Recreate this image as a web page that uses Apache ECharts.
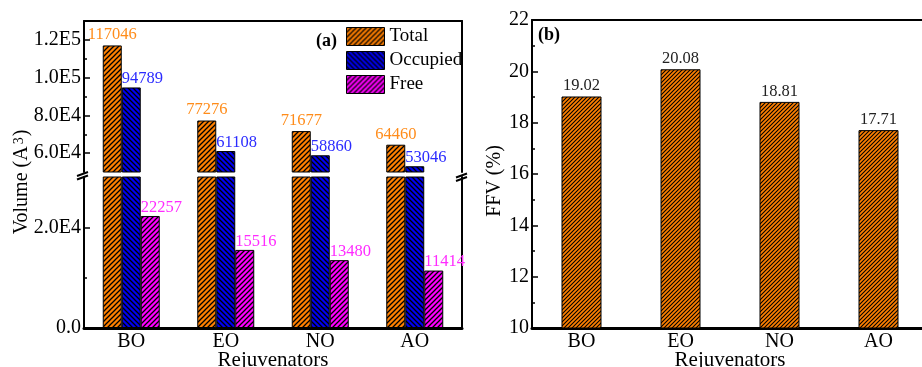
<!DOCTYPE html>
<html>
<head>
<meta charset="utf-8">
<script src="https://cdn.jsdelivr.net/npm/echarts@6/dist/echarts.min.js"></script>
<style>
  html, body { margin: 0; padding: 0; background: #fff; }
  #chart { width: 922px; height: 367px; }
</style>
</head>
<body>
<div id="chart"></div>
<script>
// Free-volume analysis of the four rejuvenators
const categories = ['BO', 'EO', 'NO', 'AO'];
const totalVol = [117046, 77276, 71677, 64460];
const occupiedVol = [94789, 61108, 58860, 53046];
const freeVol = [22257, 15516, 13480, 11414];
const ffv = [19.02, 20.08, 18.81, 17.71];

// Tick positions for the broken volume axis
const upperTicks = [60000, 80000, 100000, 120000];
const upperMinor = [70000, 90000, 110000];
const lowerTicks = [0, 20000];
const lowerMinor = [10000];

const FONT = '"Liberation Serif", "Times New Roman", serif';

// Layout of the panels
const A_LEFT = 84, A_WIDTH = 378;
const UP_TOP = 21, UP_H = 151;
const LO_TOP = 177, LO_H = 151;
const B_LEFT = 532, B_WIDTH = 396, B_TOP = 20, B_H = 308;

function hatch(bg, size, dir, lw) {
  const c = document.createElement('canvas');
  c.width = size; c.height = size;
  const g = c.getContext('2d');
  g.fillStyle = bg;
  g.fillRect(0, 0, size, size);
  g.strokeStyle = '#000';
  g.lineWidth = lw;
  g.beginPath();
  if (dir > 0) {
    g.moveTo(-1, size + 1); g.lineTo(size + 1, -1);
    g.moveTo(-1, 1); g.lineTo(1, -1);
    g.moveTo(size - 1, size + 1); g.lineTo(size + 1, size - 1);
  } else {
    g.moveTo(-1, -1); g.lineTo(size + 1, size + 1);
    g.moveTo(size - 1, -1); g.lineTo(size + 1, 1);
    g.moveTo(-1, size - 1); g.lineTo(1, size + 1);
  }
  g.stroke();
  return { image: c, repeat: 'repeat' };
}

const totalFill = hatch('#FF8000', 5, 1, 1.3);
const occupiedFill = hatch('#0000F0', 5, -1, 1.3);
const freeFill = hatch('#FF00FF', 5, 1, 1.3);
const ffvFill = hatch('#FF8000', 4, 1, 1.1);

function sci(v) {
  if (v === 0) return '0.0';
  const e = Math.floor(Math.log10(v) + 1e-9);
  return (v / Math.pow(10, e)).toFixed(1) + 'E' + e;
}

const tickLabel = { fontFamily: FONT, fontSize: 20, color: '#000' };
const barBorder = { borderColor: '#000', borderWidth: 1 };
const xName = {
  name: 'Rejuvenators', nameLocation: 'middle', nameGap: 22, nameMoveOverlap: false,
  nameTextStyle: { fontFamily: FONT, fontSize: 21, color: '#000' }
};

function volAxis(grid, min, max, major, minor) {
  return [
    {
      gridIndex: grid, type: 'value', position: 'left', min: min, max: max,
      axisLine: { show: true, lineStyle: { color: '#000', width: 2 } },
      axisTick: { show: true, inside: true, length: 6, customValues: major, lineStyle: { color: '#000', width: 1.5 } },
      axisLabel: Object.assign({ customValues: major, margin: 3, formatter: sci }, tickLabel),
      splitLine: { show: false }
    },
    {
      gridIndex: grid, type: 'value', position: 'left', min: min, max: max,
      axisLine: { show: false },
      axisTick: { show: true, inside: true, length: 3, customValues: minor, lineStyle: { color: '#000', width: 1.5 } },
      axisLabel: { show: false },
      splitLine: { show: false }
    },
    {
      gridIndex: grid, type: 'value', position: 'right', min: min, max: max,
      axisLine: { show: true, lineStyle: { color: '#000', width: 2 } },
      axisTick: { show: false }, axisLabel: { show: false }, splitLine: { show: false }
    }
  ];
}

const chart = echarts.init(document.getElementById('chart'), null, { renderer: 'canvas' });

const option = {
  backgroundColor: '#fff',
  animation: false,
  textStyle: { fontFamily: FONT },
  grid: [
    { left: A_LEFT, top: UP_TOP, width: A_WIDTH, height: UP_H, outerBoundsMode: 'none', containLabel: false },
    { left: A_LEFT, top: LO_TOP, width: A_WIDTH, height: LO_H, outerBoundsMode: 'none', containLabel: false },
    { left: B_LEFT, top: B_TOP, width: B_WIDTH, height: B_H, outerBoundsMode: 'none', containLabel: false }
  ],
  legend: {
    orient: 'vertical', left: 346, top: 27, padding: 0,
    itemWidth: 38, itemHeight: 18, itemGap: 5, icon: 'rect',
    data: ['Total', 'Occupied', 'Free'],
    itemStyle: { borderColor: '#000', borderWidth: 1 },
    textStyle: { fontFamily: FONT, fontSize: 19, color: '#000' },
    selectedMode: false
  },
  xAxis: [
    { gridIndex: 0, type: 'category', data: categories, show: false },
    {
      gridIndex: 0, type: 'category', data: categories, position: 'top',
      axisLine: { lineStyle: { color: '#000', width: 2 } },
      axisTick: { inside: true, length: 5, lineStyle: { color: '#000', width: 1.5 } },
      axisLabel: { show: false }
    },
    Object.assign({
      gridIndex: 1, type: 'category', data: categories, position: 'bottom',
      axisLine: { lineStyle: { color: '#000', width: 3 } },
      axisTick: { inside: true, length: 5, lineStyle: { color: '#000', width: 1.5 } },
      axisLabel: Object.assign({ margin: 4 }, tickLabel)
    }, xName),
    Object.assign({
      gridIndex: 2, type: 'category', data: categories, position: 'bottom',
      axisLine: { lineStyle: { color: '#000', width: 3 } },
      axisTick: { inside: true, length: 5, lineStyle: { color: '#000', width: 1.5 } },
      axisLabel: Object.assign({ margin: 4 }, tickLabel)
    }, xName),
    {
      gridIndex: 2, type: 'category', data: categories, position: 'top',
      axisLine: { lineStyle: { color: '#000', width: 2 } },
      axisTick: { inside: true, length: 5, lineStyle: { color: '#000', width: 1.5 } },
      axisLabel: { show: false }
    },
    {
      gridIndex: 2, type: 'category', data: categories, position: 'top',
      axisLine: { show: false },
      axisTick: { inside: true, length: 3, alignWithLabel: true, lineStyle: { color: '#000', width: 1.5 } },
      axisLabel: { show: false }
    }
  ],
  yAxis: [].concat(
    volAxis(0, 50000, 130000, upperTicks, upperMinor),
    volAxis(1, 0, 30000, lowerTicks, lowerMinor),
    [{
      gridIndex: 2, type: 'value', position: 'left', min: 10, max: 22, interval: 2,
      axisLine: { show: true, lineStyle: { color: '#000', width: 2 } },
      axisTick: { show: true, inside: true, length: 6, lineStyle: { color: '#000', width: 1.5 } },
      minorTick: { show: true, splitNumber: 2, length: 3, lineStyle: { color: '#000', width: 1.5 } },
      axisLabel: Object.assign({ margin: 3 }, tickLabel),
      splitLine: { show: false }
    }]
  ),
  series: [
    // upper segment of the broken axis
    {
      name: 'Total', type: 'bar', xAxisIndex: 0, yAxisIndex: 0, data: totalVol,
      barWidth: 19, barGap: '0%',
      itemStyle: Object.assign({ color: totalFill }, barBorder),
      label: { show: true, position: 'top', distance: 2, color: '#FF8C1A', fontFamily: FONT, fontSize: 16.5 }
    },
    {
      name: 'Occupied', type: 'bar', xAxisIndex: 0, yAxisIndex: 0, data: occupiedVol,
      barWidth: 19, barGap: '0%',
      itemStyle: Object.assign({ color: occupiedFill }, barBorder),
      label: { show: true, position: [0, 0], align: 'left', verticalAlign: 'bottom', color: '#2B2BFF', fontFamily: FONT, fontSize: 16.5 }
    },
    {
      name: 'Free', type: 'bar', xAxisIndex: 0, yAxisIndex: 0, data: freeVol,
      barWidth: 19, barGap: '0%',
      itemStyle: Object.assign({ color: freeFill }, barBorder),
      label: { show: false }
    },
    // lower segment of the broken axis
    {
      name: 'Total', type: 'bar', xAxisIndex: 2, yAxisIndex: 3, data: totalVol,
      barWidth: 19, barGap: '0%',
      itemStyle: Object.assign({ color: totalFill }, barBorder),
      label: { show: false }
    },
    {
      name: 'Occupied', type: 'bar', xAxisIndex: 2, yAxisIndex: 3, data: occupiedVol,
      barWidth: 19, barGap: '0%',
      itemStyle: Object.assign({ color: occupiedFill }, barBorder),
      label: { show: false }
    },
    {
      name: 'Free', type: 'bar', xAxisIndex: 2, yAxisIndex: 3, data: freeVol,
      barWidth: 19, barGap: '0%',
      itemStyle: Object.assign({ color: freeFill }, barBorder),
      label: { show: true, position: [0, 0], align: 'left', verticalAlign: 'bottom', color: '#FF2BFF', fontFamily: FONT, fontSize: 16.5 }
    },
    // fractional free volume
    {
      name: 'FFV', type: 'bar', xAxisIndex: 3, yAxisIndex: 6, data: ffv,
      barWidth: 40,
      itemStyle: Object.assign({ color: ffvFill }, barBorder),
      label: {
        show: true, position: 'top', distance: 2, color: '#222', fontFamily: FONT, fontSize: 16.5,
        formatter: function (p) { return p.value.toFixed(2); }
      }
    }
  ],
  graphic: [
    { type: 'text', x: 316, y: 41, style: { text: '(a)', font: 'bold 18px ' + FONT, fill: '#000', verticalAlign: 'middle' } },
    { type: 'text', x: 538, y: 35, style: { text: '(b)', font: 'bold 18px ' + FONT, fill: '#000', verticalAlign: 'middle' } },
    {
      type: 'text', x: 22, y: 182, rotation: Math.PI / 2,
      style: {
        text: 'Volume (A{s|3})', font: '20px ' + FONT, fill: '#000', align: 'center', verticalAlign: 'middle',
        rich: { s: { fontFamily: FONT, fontSize: 14, fill: '#000', verticalAlign: 'top', padding: [0, 1, 6, 2] } }
      }
    },
    { type: 'text', x: 495, y: 181, rotation: Math.PI / 2, style: { text: 'FFV (%)', font: '20px ' + FONT, fill: '#000', align: 'center', verticalAlign: 'middle' } },
    // axis-break marks
    { type: 'line', shape: { x1: 77, y1: 176, x2: 88, y2: 172 }, style: { stroke: '#000', lineWidth: 2 } },
    { type: 'line', shape: { x1: 77, y1: 179.5, x2: 88, y2: 175.5 }, style: { stroke: '#000', lineWidth: 2 } },
    { type: 'line', shape: { x1: 456, y1: 177.5, x2: 467, y2: 173.5 }, style: { stroke: '#000', lineWidth: 2 } },
    { type: 'line', shape: { x1: 456, y1: 181, x2: 467, y2: 177 }, style: { stroke: '#000', lineWidth: 2 } }
  ]
};

chart.setOption(option);
</script>
</body>
</html>
